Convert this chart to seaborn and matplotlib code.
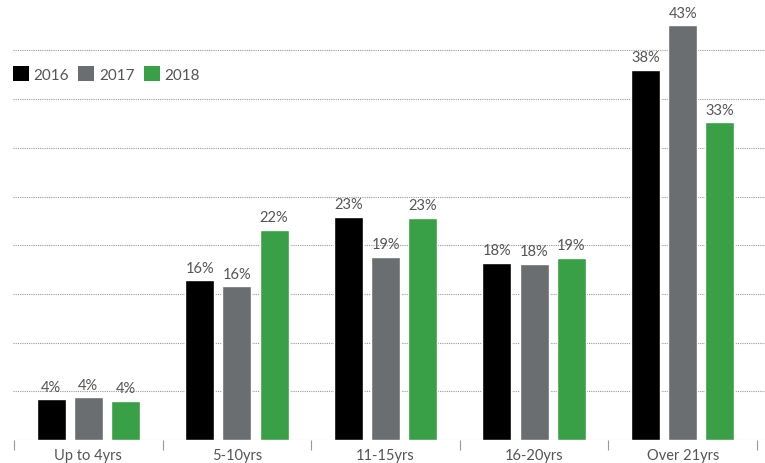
import matplotlib
matplotlib.use("Agg")
import matplotlib.pyplot as plt
import seaborn as sns
import pandas as pd
from matplotlib.ticker import FixedLocator
from matplotlib.patches import Patch

categories = ["Up to 4yrs", "5-10yrs", "11-15yrs", "16-20yrs", "Over 21yrs"]
years = ["2016", "2017", "2018"]
values_2016 = [4.2, 16.4, 22.9, 18.2, 38.0]
values_2017 = [4.4, 15.8, 18.8, 18.1, 42.6]
values_2018 = [4.0, 21.6, 22.8, 18.7, 32.6]
labels_2016 = ["4%", "16%", "23%", "18%", "38%"]
labels_2017 = ["4%", "16%", "19%", "18%", "43%"]
labels_2018 = ["4%", "22%", "23%", "19%", "33%"]
colors = ["#000000", "#6a6e70", "#3aa048"]

rows = []
for yr, vals in zip(years, [values_2016, values_2017, values_2018]):
    for c, v in zip(categories, vals):
        rows.append({"category": c, "year": yr, "value": v})
df = pd.DataFrame(rows)

sns.set_theme(style="white")
plt.rcParams["font.family"] = ["Lato", "DejaVu Sans"]
text_color = "#555555"

fig = plt.figure(figsize=(7.65, 4.64), dpi=100)
ax = fig.add_axes([13 / 765, 1 - 441 / 464, (765 - 13) / 765, (441 - 2.7) / 464])

sns.barplot(data=df, x="category", y="value", hue="year", order=categories,
            hue_order=years, palette=colors, width=0.75, gap=0.22,
            saturation=1, ax=ax, legend=False)

cat_px = (757 - 14) / 5.0
ax.set_xlim(-0.5 - 1 / cat_px, -0.5 + (765 - 14) / cat_px)
ax.set_ylim(0, 45)
ax.set_yticks([0, 5, 10, 15, 20, 25, 30, 35, 40])
ax.set_yticklabels([])
ax.tick_params(axis="y", length=0)
ax.yaxis.grid(True, linestyle=(0, (1, 1)), color="#999999", linewidth=0.8)
ax.set_axisbelow(True)
for s in ax.spines.values():
    s.set_visible(False)
ax.set_xlabel("")
ax.set_ylabel("")

ax.set_xticks(range(len(categories)))
ax.set_xticklabels(categories, fontsize=10.5, color=text_color)
ax.tick_params(axis="x", length=0, pad=6)
ax.xaxis.set_minor_locator(FixedLocator([-0.5, 0.5, 1.5, 2.5, 3.5, 4.5]))
ax.tick_params(axis="x", which="minor", length=7, width=0.8, color="#999999",
               bottom=True)
for t in ax.xaxis.get_minorticklines():
    t.set_linestyle((0, (1, 1)))

label_sets = [labels_2016, labels_2017, labels_2018]
for cont, labs in zip(ax.containers, label_sets):
    ax.bar_label(cont, labels=labs, padding=4, fontsize=10.5, color=text_color)

handles = [Patch(facecolor=c, edgecolor="none") for c in colors]
fig.legend(handles, years, loc="center left", bbox_to_anchor=(13 / 765, 1 - 75 / 464),
           ncol=3, frameon=False, handlelength=1.05, handleheight=1.05,
           handletextpad=0.3, columnspacing=0.6, labelcolor=text_color,
           borderpad=0, borderaxespad=0, prop={"size": 11})

fig.savefig("out.png", dpi=100)
